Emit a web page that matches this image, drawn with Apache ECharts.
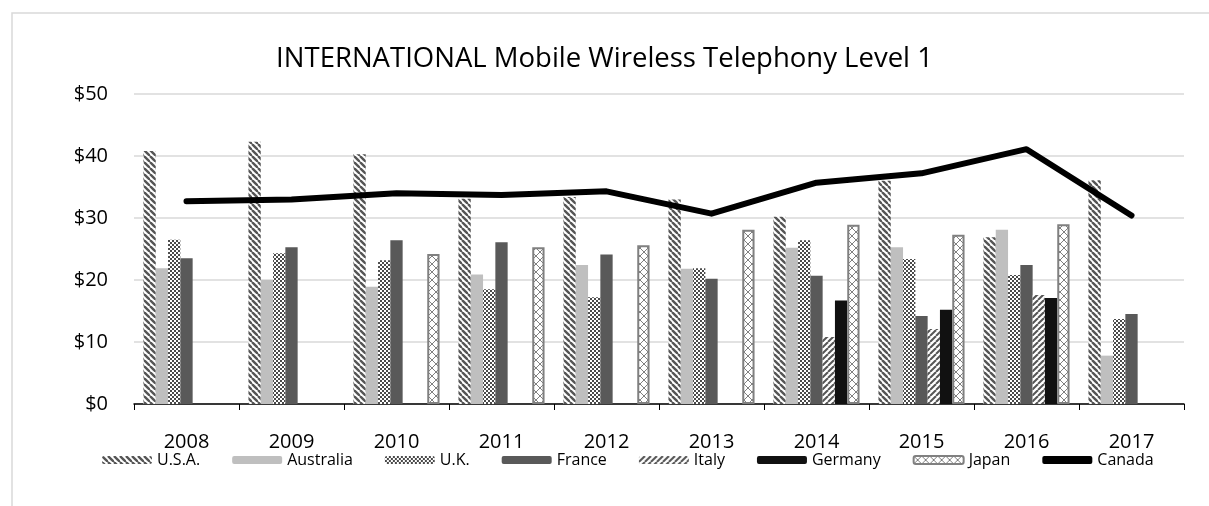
<!DOCTYPE html>
<html>
<head>
<meta charset="utf-8">
<script src="https://cdn.jsdelivr.net/npm/echarts@6/dist/echarts.min.js"></script>
<style>
  html, body { margin: 0; padding: 0; background: #fff; }
  #main { width: 1209px; height: 506px; }
</style>
</head>
<body>
<div id="main"></div>
<script>
// data
var years = ['2008', '2009', '2010', '2011', '2012', '2013', '2014', '2015', '2016', '2017'];
var usa       = [40.8, 42.3, 40.3, 33.1, 33.4, 33.0, 30.2, 36.0, 26.9, 36.1];
var australia = [21.9, 20.0, 18.9, 20.9, 22.4, 21.8, 25.2, 25.3, 28.1, 7.8];
var uk        = [26.5, 24.3, 23.2, 18.5, 17.2, 21.9, 26.4, 23.4, 20.8, 13.7];
var france    = [23.5, 25.3, 26.4, 26.1, 24.1, 20.2, 20.7, 14.2, 22.4, 14.5];
var italy     = [null, null, null, null, null, null, 10.8, 12.1, 17.6, null];
var germany   = [null, null, null, null, null, null, 16.7, 15.2, 17.1, null];
var japan     = [null, null, 24.2, 25.3, 25.6, 28.1, 28.9, 27.3, 29.0, null];
var canada    = [32.7, 33.0, 34.0, 33.7, 34.3, 30.7, 35.7, 37.2, 41.1, 30.4];

var FONT = 'Open Sans';

// little canvas tiles to mimic the Excel fill patterns
function makePattern(size, draw) {
    var c = document.createElement('canvas');
    c.width = size; c.height = size;
    var ctx = c.getContext('2d');
    ctx.fillStyle = '#fff';
    ctx.fillRect(0, 0, size, size);
    draw(ctx, size);
    return { image: c, repeat: 'repeat' };
}

// wide downward diagonal
var usaFill = makePattern(6, function (ctx, s) {
    ctx.strokeStyle = '#555';
    ctx.lineWidth = 2.4;
    for (var k = -1; k <= 1; k++) {
        ctx.beginPath();
        ctx.moveTo(k * s, 0);
        ctx.lineTo(k * s + s, s);
        ctx.stroke();
    }
});

// small checker
var ukFill = makePattern(4, function (ctx, s) {
    ctx.fillStyle = '#4a4a4a';
    ctx.fillRect(0, 0, 2, 2);
    ctx.fillRect(2, 2, 2, 2);
});

// upward diagonal
var italyFill = makePattern(6, function (ctx, s) {
    ctx.strokeStyle = '#555';
    ctx.lineWidth = 2;
    for (var k = -1; k <= 1; k++) {
        ctx.beginPath();
        ctx.moveTo(k * s, s);
        ctx.lineTo(k * s + s, 0);
        ctx.stroke();
    }
});

// zigzag crosses on white
var japanFill = makePattern(8, function (ctx, s) {
    ctx.strokeStyle = '#808080';
    ctx.lineWidth = 1;
    ctx.beginPath();
    ctx.moveTo(0, 0); ctx.lineTo(s, s);
    ctx.moveTo(s, 0); ctx.lineTo(0, s);
    ctx.stroke();
});

function barSeries(name, data, color, extra) {
    var s = {
        name: name,
        type: 'bar',
        barGap: 0,
        barCategoryGap: '18%',
        data: data,
        itemStyle: { color: color }
    };
    if (extra) {
        for (var k in extra) s.itemStyle[k] = extra[k];
    }
    return s;
}

var chart = echarts.init(document.getElementById('main'));

var option = {
    backgroundColor: '#fff',
    animation: false,
    textStyle: { fontFamily: FONT },
    title: {
        text: 'INTERNATIONAL Mobile Wireless Telephony Level 1',
        left: 'center',
        top: 40,
        textStyle: { fontFamily: FONT, fontSize: 27.5, fontWeight: 'normal', color: '#000' }
    },
    graphic: [{
        type: 'rect',
        shape: { x: 12, y: 13, width: 1210, height: 520 },
        style: { fill: 'none', stroke: '#d9d9d9', lineWidth: 1.5 },
        silent: true
    }],
    legend: {
        top: 447,
        left: 97,
        itemWidth: 50,
        itemHeight: 8,
        itemGap: 32,
        textStyle: { fontFamily: FONT, fontSize: 16, color: '#000' },
        data: ['U.S.A.', 'Australia', 'U.K.', 'France', 'Italy', 'Germany', 'Japan',
            { name: 'Canada', icon: 'roundRect', itemStyle: { color: '#000' } }]
    },
    grid: { left: 134, right: 25, top: 94, bottom: 102 },
    xAxis: {
        type: 'category',
        data: years,
        axisLine: { lineStyle: { color: '#000', width: 1.5 } },
        axisTick: { show: true, length: 6, lineStyle: { color: '#000' } },
        axisLabel: { fontFamily: FONT, fontSize: 20, color: '#000', margin: 28 }
    },
    yAxis: {
        type: 'value',
        min: 0,
        max: 50,
        interval: 10,
        axisLine: { show: false },
        axisTick: { show: false },
        splitLine: { lineStyle: { color: '#d9d9d9', width: 1.5 } },
        axisLabel: {
            fontFamily: FONT, fontSize: 20, color: '#000', margin: 26,
            formatter: function (v) { return '$' + v; }
        }
    },
    series: [
        barSeries('U.S.A.', usa, usaFill),
        barSeries('Australia', australia, '#bfbfbf'),
        barSeries('U.K.', uk, ukFill),
        barSeries('France', france, '#595959'),
        barSeries('Italy', italy, italyFill),
        barSeries('Germany', germany, '#111111'),
        barSeries('Japan', japan, japanFill, { borderColor: '#808080', borderWidth: 2 }),
        {
            name: 'Canada',
            type: 'line',
            data: canada,
            symbol: 'none',
            itemStyle: { color: '#000' },
            lineStyle: { color: '#000', width: 6, cap: 'round', join: 'round' },
            z: 5
        }
    ]
};

chart.setOption(option);
</script>
</body>
</html>
